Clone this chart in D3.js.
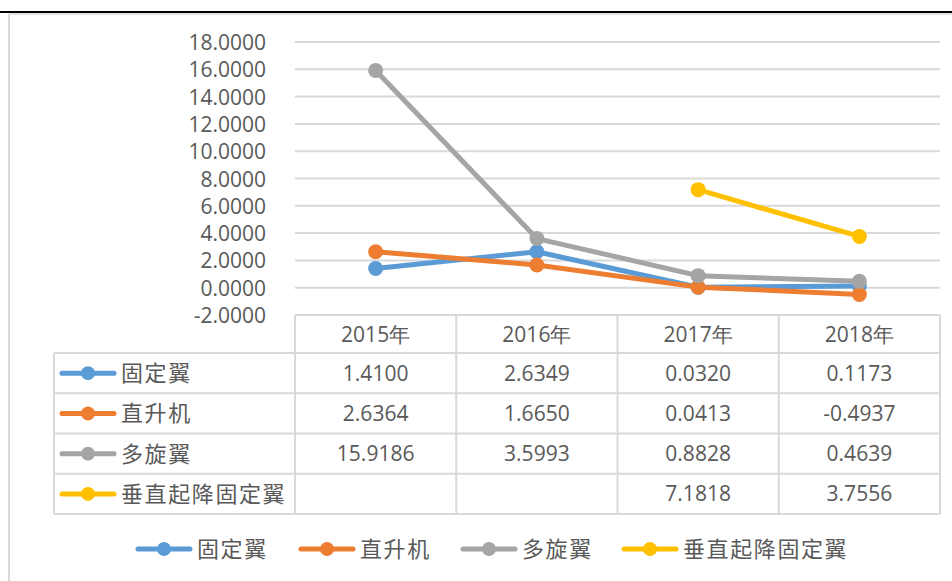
<!DOCTYPE html>
<html>
<head>
<meta charset="utf-8">
<script src="https://cdn.jsdelivr.net/npm/d3@7"></script>
<style>
  body { margin: 0; background: #fff; }
  svg { display: block; }
  .num { font-family: "Open Sans", "Noto Sans", sans-serif; font-size: 21px; fill: #595959; }
  .cjk { font-family: "Noto Sans CJK SC", sans-serif; font-size: 22px; fill: #595959; letter-spacing: 1.6px; }
</style>
</head>
<body>
<div class="chart"></div>
<script>
var svgWidth = 952
var svgHeight = 581

var years = ["2015年", "2016年", "2017年", "2018年"];
var seriesNames = ["固定翼", "直升机", "多旋翼", "垂直起降固定翼"];
var fixedWing = [1.4100, 2.6349, 0.0320, 0.1173];
var helicopter = [2.6364, 1.6650, 0.0413, -0.4937];
var multiRotor = [15.9186, 3.5993, 0.8828, 0.4639];
var vtolFixedWing = [null, null, 7.1818, 3.7556];
var yTicks = [-2, 0, 2, 4, 6, 8, 10, 12, 14, 16, 18];
var colors = ["#5B9BD5", "#ED7D31", "#A5A5A5", "#FFC000"];

var allSeries = [fixedWing, helicopter, multiRotor, vtolFixedWing];

var plot = { left: 295, right: 940, top: 42, bottom: 315 };

// excel style: plain hyphen for negatives
var fmt = d => d3.format(".4f")(d).replace("\u2212", "-");

var svg = d3.select(".chart")
    .append("svg")
    .attr("width", svgWidth)
    .attr("height", svgHeight);

// outer frame
svg.append("line")
    .attr("x1", 0).attr("x2", svgWidth)
    .attr("y1", 12).attr("y2", 12)
    .attr("stroke", "#000").attr("stroke-width", 2);
svg.append("line")
    .attr("x1", 9).attr("x2", svgWidth)
    .attr("y1", 14).attr("y2", 14)
    .attr("stroke", "#d9d9d9").attr("stroke-width", 1.5);
svg.append("line")
    .attr("x1", 9).attr("x2", 9)
    .attr("y1", 14).attr("y2", svgHeight)
    .attr("stroke", "#d9d9d9").attr("stroke-width", 2);

var x = d3.scaleBand()
    .domain(years)
    .range([plot.left, plot.right]);

var y = d3.scaleLinear()
    .domain([-2, 18])
    .range([plot.bottom, plot.top]);

// gridlines
svg.append("g")
    .selectAll("line")
    .data(yTicks.filter(d => d > -2))
    .enter()
    .append("line")
    .attr("x1", plot.left)
    .attr("x2", plot.right)
    .attr("y1", d => y(d))
    .attr("y2", d => y(d))
    .attr("stroke", "#d9d9d9")
    .attr("stroke-width", 2);

// y axis labels
var leftAxis = d3.axisLeft(y)
    .tickValues(yTicks)
    .tickFormat(fmt)
    .tickSize(0)
    .tickPadding(0);

var yAxis = svg.append("g")
    .attr("transform", "translate(266, 0)")
    .call(leftAxis);
yAxis.select(".domain").remove();
yAxis.selectAll("text")
    .attr("class", "num")
    .attr("font-family", null)
    .attr("font-size", null)
    .attr("fill", null)
    .attr("dy", "0.36em");

// table
var rowTop = 315;
var headerH = 38;
var rowH = 40.25;
var labelLeft = 54;
var tableBottom = rowTop + headerH + rowH * 4;
var tbl = svg.append("g");

var gridColor = "#d9d9d9";
// horizontal lines
tbl.append("line")
    .attr("x1", plot.left).attr("x2", plot.right)
    .attr("y1", rowTop).attr("y2", rowTop)
    .attr("stroke", gridColor).attr("stroke-width", 2);
d3.range(5).forEach(function(i) {
    var yy = rowTop + headerH + rowH * i;
    tbl.append("line")
        .attr("x1", labelLeft).attr("x2", plot.right)
        .attr("y1", yy).attr("y2", yy)
        .attr("stroke", gridColor).attr("stroke-width", 2);
});
// vertical lines
tbl.append("line")
    .attr("x1", labelLeft).attr("x2", labelLeft)
    .attr("y1", rowTop + headerH).attr("y2", tableBottom)
    .attr("stroke", gridColor).attr("stroke-width", 2);
years.forEach(function(yr) {
    tbl.append("line")
        .attr("x1", x(yr)).attr("x2", x(yr))
        .attr("y1", rowTop).attr("y2", tableBottom)
        .attr("stroke", gridColor).attr("stroke-width", 2);
});
tbl.append("line")
    .attr("x1", plot.right).attr("x2", plot.right)
    .attr("y1", rowTop).attr("y2", tableBottom)
    .attr("stroke", gridColor).attr("stroke-width", 2);

// header texts
tbl.selectAll(".hdr")
    .data(years)
    .enter()
    .append("text")
    .attr("class", "num")
    .attr("x", d => x(d) + x.bandwidth() / 2)
    .attr("y", rowTop + headerH / 2)
    .attr("dy", "0.36em")
    .attr("text-anchor", "middle")
    .text(d => d);

function legendKey(g, cx, cy, color) {
    g.append("line")
        .attr("x1", cx - 26).attr("x2", cx + 26)
        .attr("y1", cy).attr("y2", cy)
        .attr("stroke", color)
        .attr("stroke-width", 5)
        .attr("stroke-linecap", "round");
    g.append("circle")
        .attr("cx", cx).attr("cy", cy)
        .attr("r", 7)
        .attr("fill", color);
}

seriesNames.forEach(function(name, i) {
    var cy = rowTop + headerH + rowH * i + rowH / 2;
    legendKey(tbl, 88, cy, colors[i]);
    tbl.append("text")
        .attr("class", "cjk")
        .attr("x", 121)
        .attr("y", cy)
        .attr("dy", "0.36em")
        .text(name);
    allSeries[i].forEach(function(v, j) {
        if (v === null) return;
        tbl.append("text")
            .attr("class", "num")
            .attr("x", x(years[j]) + x.bandwidth() / 2)
            .attr("y", cy)
            .attr("dy", "0.36em")
            .attr("text-anchor", "middle")
            .text(fmt(v));
    });
});

// lines + markers
var line = d3.line()
    .defined(d => d.v !== null)
    .x(d => x(d.year) + x.bandwidth() / 2)
    .y(d => y(d.v));

allSeries.forEach(function(values, i) {
    var pts = values.map((v, j) => ({ year: years[j], v: v }));
    var g = svg.append("g");
    g.append("path")
        .datum(pts)
        .attr("d", line)
        .attr("fill", "none")
        .attr("stroke", colors[i])
        .attr("stroke-width", 5)
        .attr("stroke-linejoin", "round")
        .attr("stroke-linecap", "round");
    g.selectAll("circle")
        .data(pts.filter(d => d.v !== null))
        .enter()
        .append("circle")
        .attr("cx", d => x(d.year) + x.bandwidth() / 2)
        .attr("cy", d => y(d.v))
        .attr("r", 7.5)
        .attr("fill", colors[i]);
});

// bottom legend
var legendX = [164, 327, 489, 650];
var legend = svg.append("g");
seriesNames.forEach(function(name, i) {
    legendKey(legend, legendX[i], 549, colors[i]);
    legend.append("text")
        .attr("class", "cjk")
        .attr("x", legendX[i] + 33)
        .attr("y", 549)
        .attr("dy", "0.36em")
        .text(name);
});
</script>
</body>
</html>
